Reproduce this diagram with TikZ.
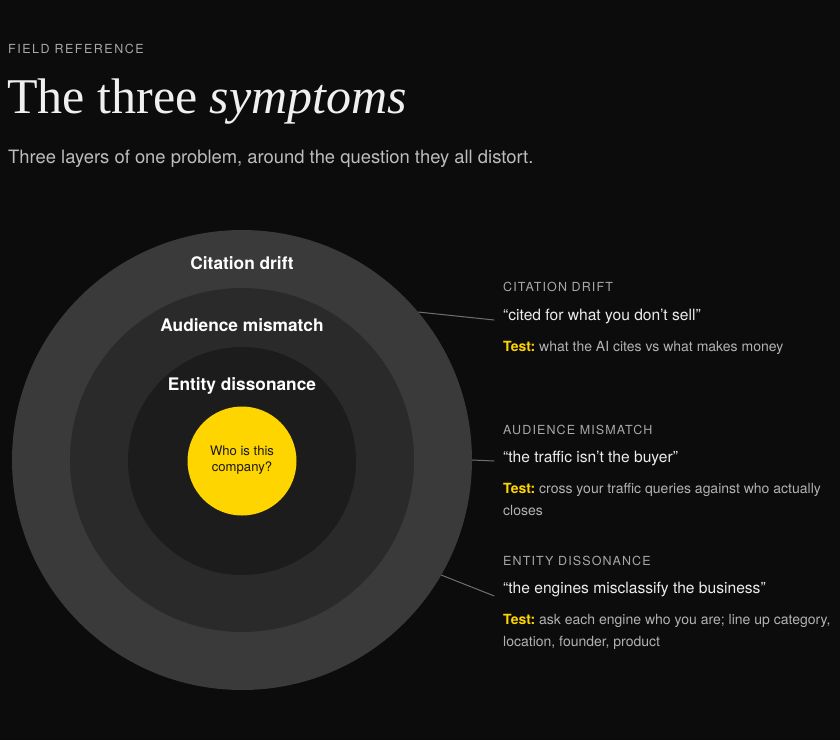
\documentclass[tikz,border=0pt]{standalone}
\usepackage{fontspec}
\setmainfont{TeX Gyre Heros}
\newfontfamily\titlefont{Liberation Serif}
\newfontfamily\capsfont[LetterSpace=12]{TeX Gyre Heros}
\newfontfamily\smallcapsfont[LetterSpace=9]{TeX Gyre Heros}
\definecolor{bg}{HTML}{0C0C0C}
\definecolor{ringA}{HTML}{3A3A3A}
\definecolor{ringB}{HTML}{2A2A2A}
\definecolor{ringC}{HTML}{1C1C1C}
\definecolor{core}{HTML}{FFD500}
\definecolor{capgrey}{HTML}{A8A8A8}
\definecolor{quotecol}{HTML}{ECECEC}
\definecolor{bodygrey}{HTML}{B2B2B2}
\definecolor{leader}{HTML}{707070}
\definecolor{subgrey}{HTML}{BDBDBD}
\frenchspacing
\begin{document}
\begin{tikzpicture}[x=1pt,y=-1pt,
  ring/.style={circle,draw=none,inner sep=0pt},
  ringlabel/.style={anchor=base,text=white,font=\bfseries\fontsize{17.3}{20}\selectfont,inner sep=0pt},
  sidecap/.style={anchor=base west,text=capgrey,font=\smallcapsfont\fontsize{12.5}{15}\selectfont,inner sep=0pt},
  sidequote/.style={anchor=base west,text=quotecol,font=\fontsize{15.6}{18}\selectfont,inner sep=0pt},
  sidetest/.style={anchor=base west,text=bodygrey,font=\frenchspacing\fontsize{14}{23}\selectfont,inner sep=0pt},
  leaderline/.style={draw=leader,line width=1pt}]
\fill[bg] (0,0) rectangle (840,740);
\useasboundingbox (0,0) rectangle (840,740);
% header
\node[anchor=base west,inner sep=0pt,text=capgrey,font=\capsfont\fontsize{12.5}{15}\selectfont] (kicker) at (8,53.5) {FIELD REFERENCE};
\node[anchor=base west,inner sep=0pt,text=white!94!black,font=\titlefont\fontsize{50}{56}\selectfont] (title) at (7,113) {The three \textit{symptoms}};
\node[anchor=base west,inner sep=0pt,text=subgrey,font=\fontsize{18.4}{22}\selectfont] (subtitle) at (8,163) {Three layers of one problem, around the question they all distort.};
% rings
\node[ring,fill=ringA,minimum size=460pt] (outer) at (242,460) {};
\node[ring,fill=ringB,minimum size=344pt] (middle) at (242,460) {};
\node[ring,fill=ringC,minimum size=228pt] (inner) at (242,461) {};
\node[ring,fill=core,minimum size=109pt] (core) at (242,461) {};
\node[inner sep=0pt,align=center,text=black!90,font=\fontsize{13.1}{15.5}\selectfont] (q) at (242,460) {Who is this\\company?};
\node[ringlabel] (l1) at (242,269.3) {Citation drift};
\node[ringlabel] (l2) at (242,331.7) {Audience mismatch};
\node[ringlabel] (l3) at (242,390) {Entity dissonance};
% side texts
\node[sidecap] (c1) at (503,291.5) {CITATION DRIFT};
\node[sidequote] (q1) at (503,320) {“cited for what you don't sell”};
\node[sidetest] (t1) at (503,351.7) {{\color{core}\bfseries Test:} what the AI cites vs what makes money};
\node[sidecap] (c2) at (503,434) {AUDIENCE MISMATCH};
\node[sidequote] (q2) at (503,462.7) {“the traffic isn't the buyer”};
\node[sidetest] (t2) at (503,493.3) {{\color{core}\bfseries Test:} cross your traffic queries against who actually};
\node[sidetest] (t2b) at (503,515.5) {closes};
\node[sidecap] (c3) at (503,565.7) {ENTITY DISSONANCE};
\node[sidequote] (q3) at (503,593.3) {“the engines misclassify the business”};
\node[sidetest] (t3) at (503,624) {{\color{core}\bfseries Test:} ask each engine who you are; line up category,};
\node[sidetest] (t3b) at (503,646.5) {location, founder, product};
% leaders
\coordinate (e1) at (494.3,320);
\coordinate (e2) at (494.3,461);
\coordinate (e3) at (494.3,596);
\draw[leaderline] (outer.40.3) -- (e1);
\draw[leaderline] (outer.east) -- (e2);
\draw[leaderline] (outer.-30.3) -- (e3);
\end{tikzpicture}
\end{document}
